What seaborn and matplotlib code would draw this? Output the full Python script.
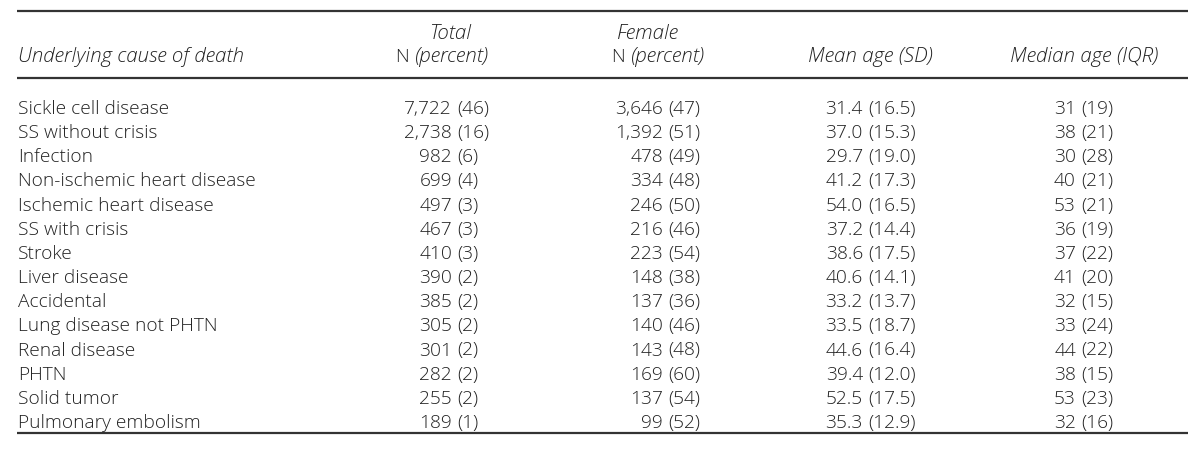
import matplotlib
matplotlib.use("Agg")
import matplotlib.pyplot as plt
import seaborn as sns

# table data
causes = [
    "Sickle cell disease", "SS without crisis", "Infection",
    "Non-ischemic heart disease", "Ischemic heart disease", "SS with crisis",
    "Stroke", "Liver disease", "Accidental", "Lung disease not PHTN",
    "Renal disease", "PHTN", "Solid tumor", "Pulmonary embolism",
]
total_n = [7722, 2738, 982, 699, 497, 467, 410, 390, 385, 305, 301, 282, 255, 189]
total_pct = [46, 16, 6, 4, 3, 3, 3, 2, 2, 2, 2, 2, 2, 1]
female_n = [3646, 1392, 478, 334, 246, 216, 223, 148, 137, 140, 143, 169, 137, 99]
female_pct = [47, 51, 49, 48, 50, 46, 54, 38, 36, 46, 48, 60, 54, 52]
mean_age = [31.4, 37.0, 29.7, 41.2, 54.0, 37.2, 38.6, 40.6, 33.2, 33.5, 44.6, 39.4, 52.5, 35.3]
sd_age = [16.5, 15.3, 19.0, 17.3, 16.5, 14.4, 17.5, 14.1, 13.7, 18.7, 16.4, 12.0, 17.5, 12.9]
median_age = [31, 38, 30, 40, 53, 36, 37, 41, 32, 33, 44, 38, 53, 32]
iqr_age = [19, 21, 28, 21, 21, 19, 22, 20, 15, 24, 22, 15, 23, 16]

sns.set_theme(style="white")
plt.rcParams["font.family"] = ["Open Sans", "DejaVu Sans"]

FS = 13.8
HFS = 14.8
INK = "#222222"
TXT = dict(fontsize=FS, color=INK, va="center", fontweight="light")
HDR = dict(fontsize=HFS, color=INK, va="center", fontweight="light", style="italic")

fig = plt.figure(figsize=(12, 4.55), dpi=100)
ax = fig.add_axes([0, 0, 1, 1])
ax.set_xlim(0, 1200)
ax.set_ylim(455, 0)
ax.axis("off")

# rules
ax.hlines([11, 78, 433], 17, 1188, color="#333333", linewidth=1.6)

# header
ax.text(18, 57, "Underlying cause of death", ha="left", **HDR)
ax.text(450, 34, "Total", ha="center", **HDR)
ax.text(415, 57, "N ", ha="right", **TXT)
ax.text(415, 57, "(percent)", ha="left", **HDR)
ax.text(648, 34, "Female", ha="center", **HDR)
ax.text(631, 57, "N ", ha="right", **TXT)
ax.text(631, 57, "(percent)", ha="left", **HDR)
ax.text(870, 57, "Mean age (SD)", ha="center", **HDR)
ax.text(1084, 57, "Median age (IQR)", ha="center", **HDR)

# rows
y0, dy = 109, 24.15
cols = [
    (452, 457, [f"{v:,}" for v in total_n], [f"({p})" for p in total_pct]),
    (663, 668, [f"{v:,}" for v in female_n], [f"({p})" for p in female_pct]),
    (863, 868, [f"{v:.1f}" for v in mean_age], [f"({s:.1f})" for s in sd_age]),
    (1076, 1081, [str(v) for v in median_age], [f"({q})" for q in iqr_age]),
]
for i, name in enumerate(causes):
    y = y0 + i * dy
    ax.text(18, y, name, ha="left", **TXT)
    for xr, xl, nums, pars in cols:
        ax.text(xr, y, nums[i], ha="right", **TXT)
        ax.text(xl, y, pars[i], ha="left", **TXT)

fig.savefig("out.png", dpi=100)
